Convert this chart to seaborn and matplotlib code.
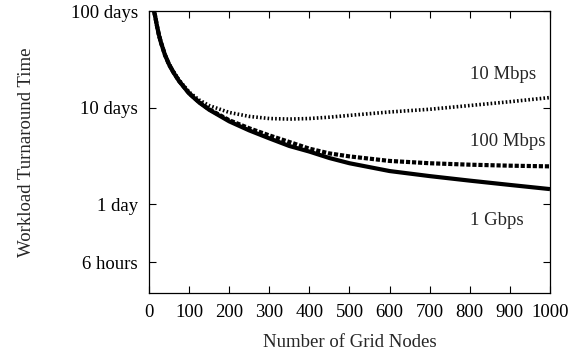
import matplotlib
matplotlib.use("Agg")
import matplotlib.pyplot as plt
import seaborn as sns
import pandas as pd

# Data (turnaround time in days)
nodes = [10, 15, 20, 25, 30, 40, 50, 60, 75, 100, 125, 150, 200, 250, 300,
         350, 400, 450, 500, 600, 700, 800, 900, 1000]
gbps1 = [110, 90, 70, 56, 47, 35, 28, 23.5, 18.8, 14, 11.3, 9.5, 7.2, 5.8,
         4.8, 4.0, 3.5, 3.0, 2.65, 2.2, 1.95, 1.75, 1.58, 1.43]
mbps100 = [110, 90, 70, 56, 47, 35, 28, 23.6, 18.9, 14.1, 11.4, 9.6, 7.4, 6.1,
           5.15, 4.4, 3.75, 3.35, 3.12, 2.8, 2.65, 2.56, 2.5, 2.46]
mbps10 = [110, 90, 70, 56, 47, 35.2, 28.3, 24, 19.3, 14.5, 12, 10.5, 8.9, 8.1,
          7.7, 7.6, 7.7, 7.95, 8.3, 9.0, 9.6, 10.5, 11.5, 12.7]

series_names = ["10 Mbps", "100 Mbps", "1 Gbps"]
ytick_vals = [0.25, 1, 10, 100]
ytick_labels = ["6 hours", "1 day", "10 days", "100 days"]
xtick_vals = list(range(0, 1001, 100))

df = pd.DataFrame({
    "nodes": nodes * 3,
    "days": mbps10 + mbps100 + gbps1,
    "link": [series_names[0]] * len(nodes) + [series_names[1]] * len(nodes)
            + [series_names[2]] * len(nodes),
})

sns.set_style("ticks")
plt.rcParams["font.family"] = ["Liberation Serif", "DejaVu Serif"]
plt.rcParams["axes.linewidth"] = 0.9

FS = 13.5
fig = plt.figure(figsize=(5.79, 3.56), dpi=100)
ax = fig.add_axes([0.2573, 0.177, 0.6926, 0.792])

styles = {
    "10 Mbps": dict(lw=2.6, dashes=(0.45, 0.6)),
    "100 Mbps": dict(lw=3.0, dashes=(1.0, 0.45)),
    "1 Gbps": dict(lw=3.0, dashes=None),
}
for name in series_names:
    sub = df[df["link"] == name]
    st = styles[name]
    sns.lineplot(data=sub, x="nodes", y="days", ax=ax, color="black",
                 lw=st["lw"], legend=False)
    l = ax.get_lines()[-1]
    if st["dashes"] is not None:
        l.set_dashes(st["dashes"])
        l.set_dash_capstyle("butt")
    l.set_solid_capstyle("butt")

ax.set_yscale("log")
ax.set_xlim(0, 1000)
ax.set_ylim(0.12, 100)
ax.set_xticks(xtick_vals)
ax.set_xticklabels([str(v) for v in xtick_vals])
ax.set_yticks(ytick_vals)
ax.set_yticklabels(ytick_labels)
ax.yaxis.set_minor_locator(matplotlib.ticker.NullLocator())
ax.tick_params(direction="in", length=5, width=0.8, top=True, right=True,
               labelsize=FS, colors="black")
ax.tick_params(axis="y", pad=8)
ax.tick_params(axis="x", pad=8)
ax.set_xlabel("Number of Grid Nodes", fontsize=FS, labelpad=9)
ax.set_ylabel("Workload Turnaround Time", fontsize=FS, labelpad=26)
for s in ax.spines.values():
    s.set_visible(True)
    s.set_color("black")

label_y = {"10 Mbps": 22.2, "100 Mbps": 4.42, "1 Gbps": 0.68}
for name in series_names:
    ax.text(800, label_y[name], name, fontsize=FS, ha="left", va="center")

fig.savefig("out.png", dpi=100)
